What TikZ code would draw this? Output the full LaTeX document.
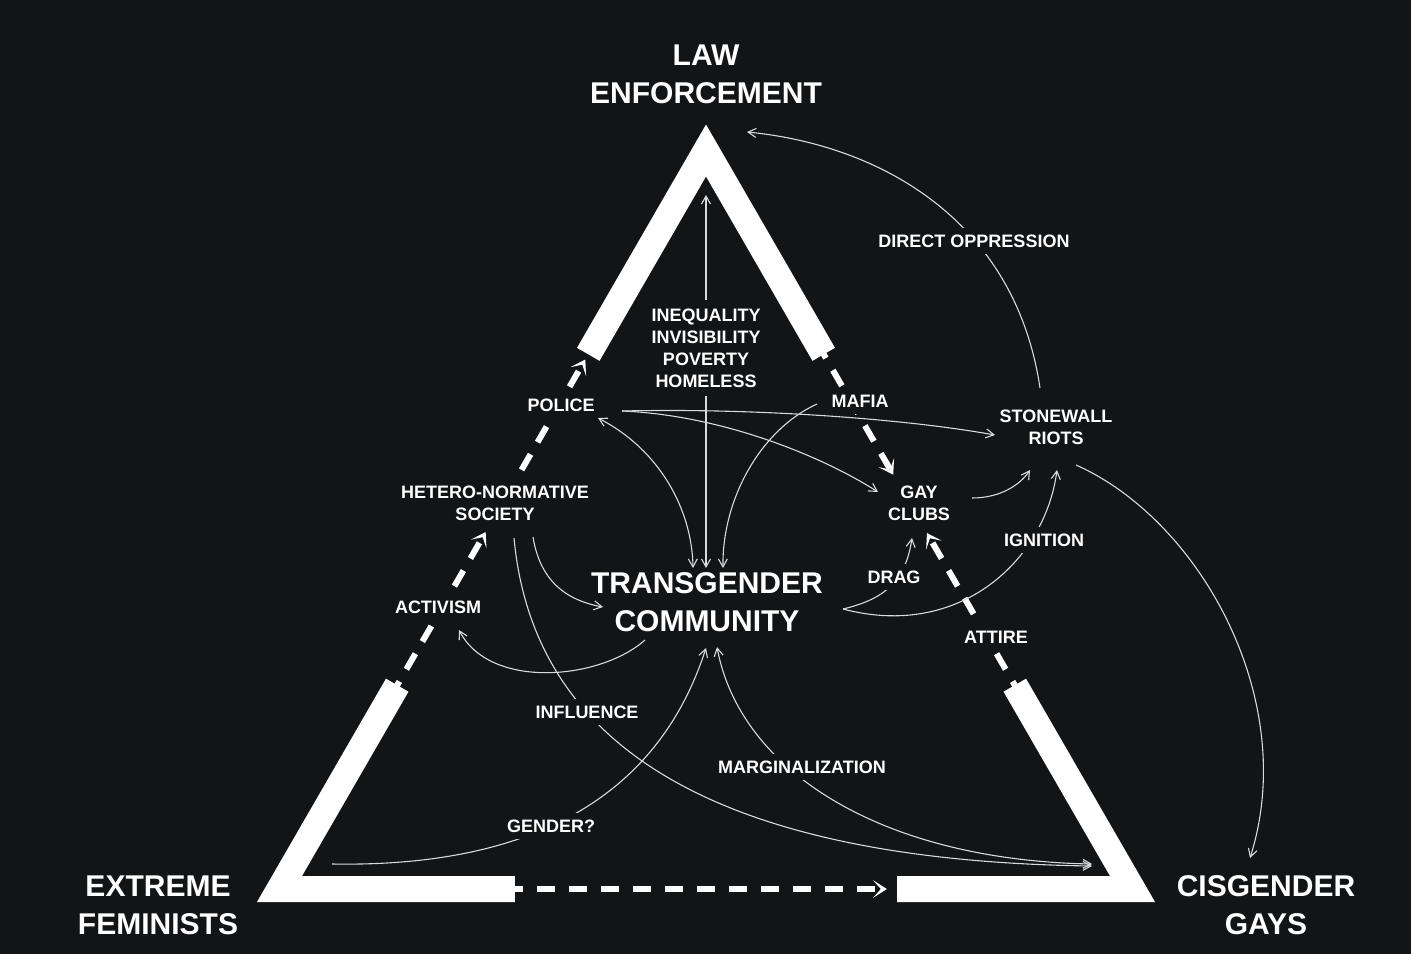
\documentclass[tikz,border=0pt]{standalone}
\usepackage{fontspec}
\setmainfont{Liberation Sans}
\usepackage{tikz}
\usetikzlibrary{arrows.meta, positioning, calc, backgrounds}
\definecolor{bgcol}{RGB}{19,20,22}
\definecolor{linecol}{RGB}{218,218,218}

\begin{document}
\begin{tikzpicture}[
    x=1pt, y=-1pt,
    >={Straight Barb[length=8pt, width=9pt]},
    big/.style={text=white, align=center, font=\bfseries\fontsize{30}{38}\selectfont},
    lbl/.style={fill=bgcol, text=white, align=center, inner xsep=3pt, inner ysep=7pt, font=\bfseries\fontsize{18}{22}\selectfont},
    band/.style={white, line width=26pt, line join=miter},
    darr/.style={white, line width=6pt, dash pattern=on 18pt off 14pt, -{Stealth[length=14pt, width=18pt, inset=8pt, line width=0pt]}},
    arr/.style={linecol, line width=1.1pt, ->}
]
\useasboundingbox (0,0) rectangle (1411,954);

\node[big] (law) at (706,74) {LAW\\ENFORCEMENT};
\node[big] (fem) at (158,905) {EXTREME\\FEMINISTS};
\node[big] (cis) at (1266,905) {CISGENDER\\GAYS};
\node[big] (tc) at (707,602) {TRANSGENDER\\COMMUNITY};

\node[lbl, inner ysep=9pt] (ineq) at (706,348) {INEQUALITY\\INVISIBILITY\\POVERTY\\HOMELESS};
\node[lbl] (police) at (561,405) {POLICE};
\node[lbl] (mafia) at (860,401) {MAFIA};
\node[lbl] (stone) at (1056,427) {STONEWALL\\RIOTS};
\node[lbl] (hetero) at (495,503) {HETERO-NORMATIVE\\SOCIETY};
\node[lbl] (clubs) at (919,503) {GAY\\CLUBS};
\node[lbl] (direct) at (974,241) {DIRECT OPPRESSION};
\node[lbl] (ignition) at (1044,540) {IGNITION};
\node[lbl] (drag) at (894,577) {DRAG};
\node[lbl] (activism) at (438,607) {ACTIVISM};
\node[lbl] (attire) at (996,637) {ATTIRE};
\node[lbl] (influence) at (587,712) {INFLUENCE};
\node[lbl] (marg) at (802,767) {MARGINALIZATION};
\node[lbl] (gender) at (551,826) {GENDER?};

\begin{pgfonlayer}{background}
\fill[bgcol] (0,0) rectangle (1411,954);

% triangle
\coordinate (top) at (706,150.5);
\coordinate (bl) at (279.5,889);
\coordinate (br) at (1132.5,889);
\draw[band] ($(top)!0.276!(bl)$) -- (top) -- ($(top)!0.276!(br)$);
\draw[band] ($(top)!0.724!(bl)$) -- (bl) -- ($(bl)!0.276!(br)$);
\draw[band] ($(bl)!0.724!(br)$) -- (br) -- ($(top)!0.724!(br)$);

\draw[darr] ($(top)!0.74!(bl)$) -- ($(top)!0.5166!(bl)$);
\draw[darr] ($(top)!0.47!(bl)$) -- ($(top)!0.283!(bl)$);
\draw[darr] ($(top)!0.26!(br)$) -- ($(top)!0.439!(br)$);
\draw[darr] ($(top)!0.74!(br)$) -- ($(top)!0.518!(br)$);
\draw[darr] ($(bl)!0.264!(br)$) -- ($(bl)!0.712!(br)$);

\draw[arr] ($(stone)+(-16,-39)$) .. controls (1015,220) and (880,145) .. ($(law)+(41,58)$);
\draw[arr] ($(stone)+(20,38)$) .. controls (1200,520) and (1300,700) .. ($(cis)+(-16,-47)$);
\draw[arr] ($(tc)+(136,7)$) .. controls (960,640) and (1045,560) .. ($(stone)+(1,43)$);
\draw[arr] ($(tc)+(136,7)$) .. controls (880,600) and (905,585) .. ($(clubs)+(-7,35)$);
\draw[arr] ($(clubs)+(53,-5)$) .. controls (1000,498) and (1020,485) .. ($(stone)+(-26,43)$);
\draw[arr] ($(police)+(61,6)$) .. controls (750,408) and (900,418) .. ($(stone)+(-61,8)$);
\draw[arr] ($(police)+(61,6)$) .. controls (720,415) and (820,455) .. ($(clubs)+(-41,-11)$);
\draw[arr] ($(mafia)+(-43,3)$) .. controls (760,430) and (722,500) .. ($(tc)+(16,-34)$);
\draw[arr, <->] ($(police)+(37,13)$) .. controls (660,450) and (692,510) .. ($(tc)+(-14,-34)$);
\draw[arr, <->] ($(tc)+(-1,-34)$) -- ($(law)+(0,121)$);
\draw[arr] ($(hetero)+(38,34)$) .. controls (540,580) and (565,600) .. ($(tc)+(-104,5)$);
\draw[arr] ($(hetero)+(19,35)$) .. controls (530,710) and (660,860) .. ($(cis)+(-174,-39)$);
\draw[arr, <->] ($(tc)+(10,45)$) .. controls (740,770) and (880,860) .. ($(cis)+(-174,-41)$);
\draw[arr] ($(fem)+(174,-41)$) .. controls (560,868) and (665,775) .. ($(tc)+(-1,46)$);
\draw[arr] ($(tc)+(-62,38)$) .. controls (600,680) and (490,690) .. ($(activism)+(21,23)$);
\end{pgfonlayer}
\end{tikzpicture}
\end{document}
